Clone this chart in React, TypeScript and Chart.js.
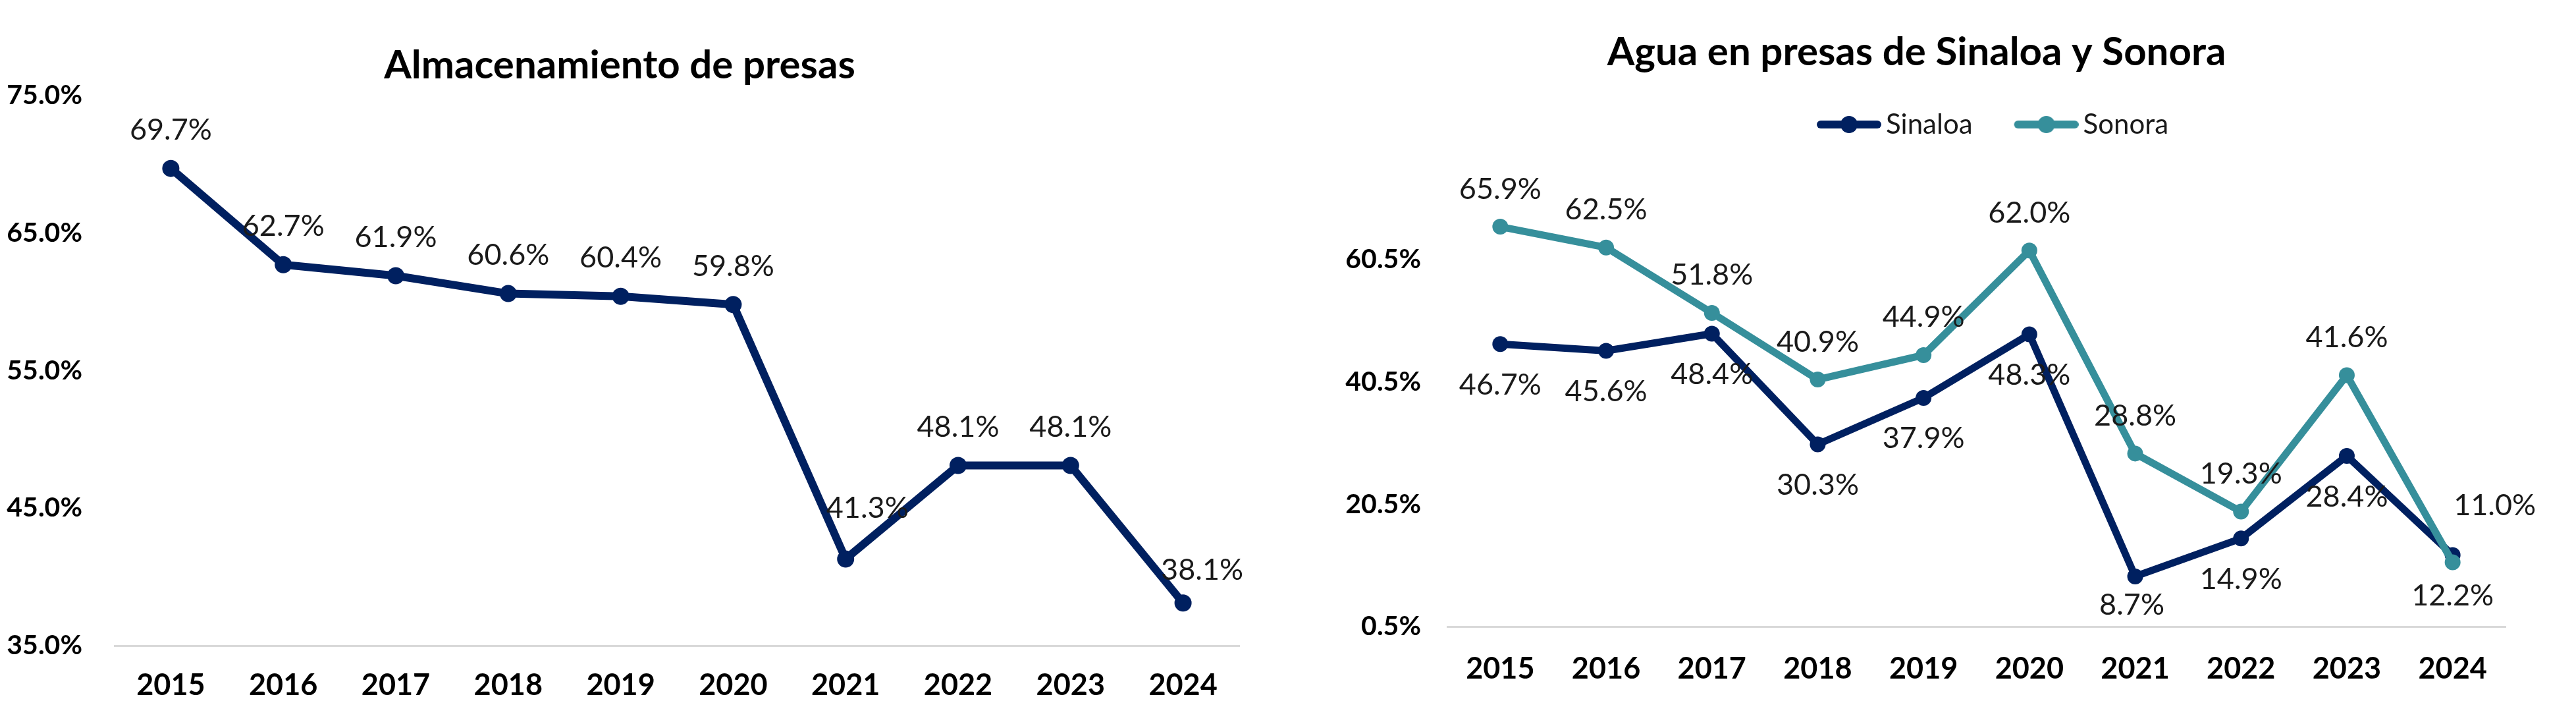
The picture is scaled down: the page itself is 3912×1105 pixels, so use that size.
import React, { useEffect, useRef } from "react";
import { Chart, registerables } from "chart.js";

Chart.register(...registerables);

// ---------- data ----------
const years = ["2015", "2016", "2017", "2018", "2019", "2020", "2021", "2022", "2023", "2024"];
const almacenamiento = [69.7, 62.7, 61.9, 60.6, 60.4, 59.8, 41.3, 48.1, 48.1, 38.1];
const sinaloa = [46.7, 45.6, 48.4, 30.3, 37.9, 48.3, 8.7, 14.9, 28.4, 12.2];
const sonora = [65.9, 62.5, 51.8, 40.9, 44.9, 62.0, 28.8, 19.3, 41.6, 11.0];
const leftTicks = [35, 45, 55, 65, 75];
const rightTicks = [0.5, 20.5, 40.5, 60.5];
const leftTitle = "Almacenamiento de presas";
const rightTitle = "Agua en presas de Sinaloa y Sonora";
const seriesNames = ["Sinaloa", "Sonora"];

// ---------- style ----------
const FONT = "Lato";
const NAVY = "#002060";
const TEAL = "#368F9B";
const TEXT = "#1a1a1a";
const AXIS = "#D9D9D9";

const pct = (v: number) => v.toFixed(1) + "%";

type LabelCfg = { dy: number; adjust: Record<number, [number, number]> };

function makeLabelPlugin(cfgs: LabelCfg[], size: number) {
  return {
    id: "pointLabels",
    afterDatasetsDraw(chart: any) {
      const ctx = chart.ctx;
      ctx.save();
      ctx.font = `normal ${size}px ${FONT}`;
      ctx.fillStyle = TEXT;
      ctx.textAlign = "center";
      ctx.textBaseline = "middle";
      chart.data.datasets.forEach((ds: any, di: number) => {
        const meta = chart.getDatasetMeta(di);
        const cfg = cfgs[di];
        meta.data.forEach((pt: any, i: number) => {
          const adj = cfg.adjust[i] || [0, 0];
          ctx.fillText(pct(ds.data[i]), pt.x + adj[0], pt.y + cfg.dy + adj[1]);
        });
      });
      ctx.restore();
    },
  };
}

function makeLegendImage(color: string) {
  const W = 155, H = 32, contentW = 98;
  const c = document.createElement("canvas");
  c.width = W;
  c.height = H;
  const g = c.getContext("2d")!;
  const x0 = W - contentW;
  g.strokeStyle = color;
  g.lineWidth = 12;
  g.lineCap = "round";
  g.beginPath();
  g.moveTo(x0 + 6, H / 2);
  g.lineTo(W - 6, H / 2);
  g.stroke();
  g.fillStyle = color;
  g.beginPath();
  g.arc(x0 + contentW / 2, H / 2, 13, 0, Math.PI * 2);
  g.fill();
  return c;
}

const TITLE_SIZE = 60;
const TICK_Y = 41;
const TICK_X = 45;
const LABEL_SIZE = 45;
const LEGEND_SIZE = 42;

function LeftChart() {
  const ref = useRef<HTMLCanvasElement>(null);
  useEffect(() => {
    const chart = new Chart(ref.current!, {
      type: "line",
      data: {
        labels: years,
        datasets: [
          {
            label: leftTitle,
            data: almacenamiento,
            borderColor: NAVY,
            backgroundColor: NAVY,
            borderWidth: 12,
            pointRadius: 13,
            pointBorderWidth: 0,
            pointBackgroundColor: NAVY,
            tension: 0,
          },
        ],
      },
      options: {
        responsive: false,
        animation: false,
        layout: { padding: { left: 0, right: 38, top: 0, bottom: 0 } },
        plugins: {
          legend: { display: false },
          tooltip: { enabled: false },
          title: {
            display: true,
            text: leftTitle,
            color: "#000",
            font: { family: FONT, size: TITLE_SIZE, weight: "bold", lineHeight: 1.2 },
            padding: { top: 64, bottom: 9 },
          },
        },
        scales: {
          x: {
            offset: true,
            grid: { display: false, drawTicks: false },
            border: { display: true, color: AXIS, width: 3 },
            ticks: {
              color: "#000",
              font: { family: FONT, size: TICK_X, weight: "bold", lineHeight: 1.2 },
              padding: 33,
              maxRotation: 0,
            },
            afterFit: (s: any) => {
              s.height = 125;
            },
          },
          y: {
            min: 35,
            max: 75,
            grid: { display: false, drawTicks: false },
            border: { display: false },
            ticks: {
              color: "#000",
              font: { family: FONT, size: TICK_Y, weight: "bold" },
              padding: 49,
              callback: (v: any) => pct(Number(v)),
            },
            afterBuildTicks: (s: any) => {
              s.ticks = leftTicks.map((v) => ({ value: v }));
            },
            afterFit: (s: any) => {
              s.width = 174;
            },
          },
        },
      },
      plugins: [
        makeLabelPlugin(
          [{ dy: -58, adjust: { 6: [33, -19], 9: [29, 8] } }],
          LABEL_SIZE
        ),
      ],
    } as any);
    return () => chart.destroy();
  }, []);
  return (
    <canvas
      ref={ref}
      width={1920}
      height={1105}
      style={{ position: "absolute", left: 0, top: 0, width: 1920, height: 1105 }}
    />
  );
}

function RightChart() {
  const ref = useRef<HTMLCanvasElement>(null);
  useEffect(() => {
    const imgs = [makeLegendImage(NAVY), makeLegendImage(TEAL)];
    const legendPlace = {
      id: "legendPlace",
      afterLayout(chart: any) {
        const lg = chart.legend;
        if (lg) {
          const w = lg.right - lg.left;
          lg.left = 680;
          lg.right = 680 + w;
        }
      },
    };
    const chart = new Chart(ref.current!, {
      type: "line",
      data: {
        labels: years,
        datasets: [
          {
            label: seriesNames[0],
            data: sinaloa,
            borderColor: NAVY,
            backgroundColor: NAVY,
            borderWidth: 11,
            pointRadius: 12,
            pointBorderWidth: 0,
            pointBackgroundColor: NAVY,
            tension: 0,
            order: 1,
          },
          {
            label: seriesNames[1],
            data: sonora,
            borderColor: TEAL,
            backgroundColor: TEAL,
            borderWidth: 11,
            pointRadius: 12,
            pointBorderWidth: 0,
            pointBackgroundColor: TEAL,
            tension: 0,
            order: 0,
          },
        ],
      },
      options: {
        responsive: false,
        animation: false,
        layout: { padding: { left: 0, right: 107, top: 0, bottom: 0 } },
        plugins: {
          tooltip: { enabled: false },
          title: {
            display: true,
            text: rightTitle,
            color: "#000",
            font: { family: FONT, size: TITLE_SIZE, weight: "bold", lineHeight: 1.2 },
            padding: { top: 44, bottom: 32 },
          },
          subtitle: {
            display: true,
            text: "",
            weight: 500,
            font: { size: 1, lineHeight: 1 },
            padding: { top: 34, bottom: 0 },
          },
          legend: {
            display: true,
            position: "top",
            align: "start",
            weight: 1000,
            labels: {
              usePointStyle: true,
              pointStyleWidth: 127,
              padding: 20,
              color: TEXT,
              font: { family: FONT, size: LEGEND_SIZE },
              sort: (a: any, b: any) => a.datasetIndex - b.datasetIndex,
              generateLabels: (ch: any) => {
                const items = (Chart.defaults.plugins.legend.labels as any).generateLabels(ch);
                return items.map((it: any) => ({ ...it, pointStyle: imgs[it.datasetIndex] }));
              },
            },
          },
        },
        scales: {
          x: {
            offset: true,
            grid: { display: false, drawTicks: false },
            border: { display: true, color: AXIS, width: 3 },
            ticks: {
              color: "#000",
              font: { family: FONT, size: TICK_X, weight: "bold", lineHeight: 1.2 },
              padding: 37,
              maxRotation: 0,
            },
            afterFit: (s: any) => {
              s.height = 154;
            },
          },
          y: {
            min: 0.5,
            max: 75.5,
            grid: { display: false, drawTicks: false },
            border: { display: false },
            ticks: {
              color: "#000",
              font: { family: FONT, size: TICK_Y, weight: "bold" },
              padding: 40,
              callback: (v: any) => pct(Number(v)),
            },
            afterBuildTicks: (s: any) => {
              s.ticks = rightTicks.map((v) => ({ value: v }));
            },
            afterFit: (s: any) => {
              s.width = 182;
            },
          },
        },
      },
      plugins: [
        legendPlace,
        makeLabelPlugin(
          [
            { dy: 62, adjust: { 6: [-5, -18] } },
            { dy: -57, adjust: { 9: [64, -29] } },
          ],
          LABEL_SIZE
        ),
      ],
    } as any);
    return () => chart.destroy();
  }, []);
  return (
    <canvas
      ref={ref}
      width={1896}
      height={1105}
      style={{ position: "absolute", left: 2016, top: 0, width: 1896, height: 1105 }}
    />
  );
}

export default function App() {
  return (
    <div
      style={{
        position: "absolute",
        left: 0,
        top: 0,
        width: 3912,
        height: 1105,
        background: "#fff",
        overflow: "hidden",
      }}
    >
      <LeftChart />
      <RightChart />
    </div>
  );
}
